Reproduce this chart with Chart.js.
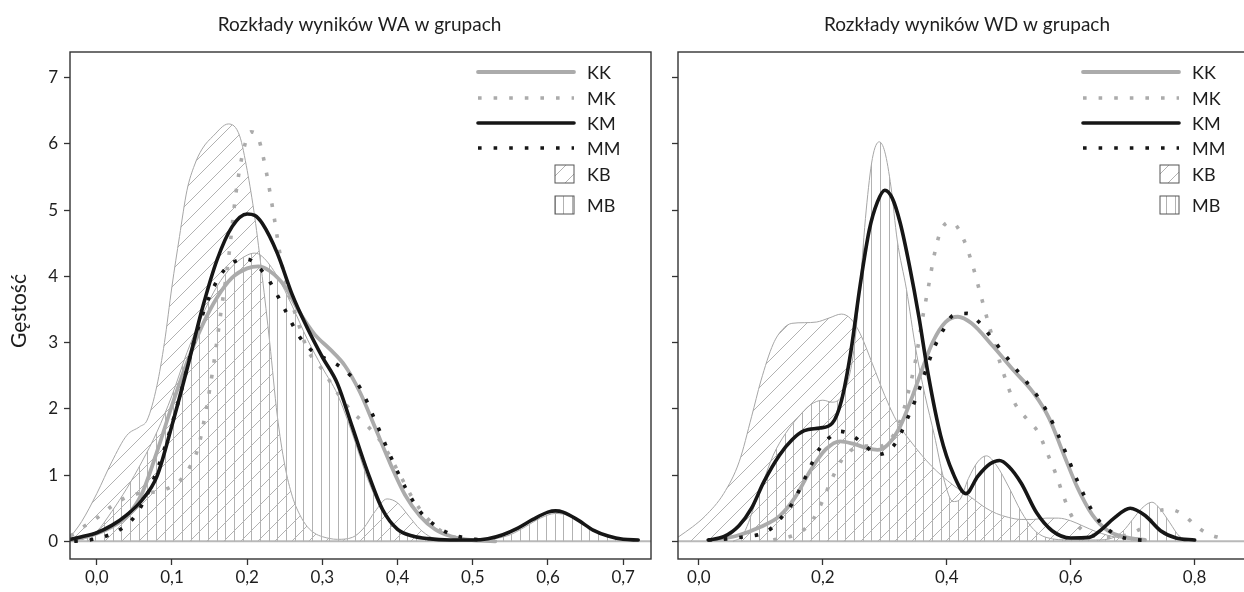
<!DOCTYPE html>
<html><head><meta charset="utf-8">
<script src="https://cdn.jsdelivr.net/npm/chart.js@4.4.1/dist/chart.umd.min.js"></script>
<style>
html,body{margin:0;padding:0;background:#fff;overflow:hidden;}
#wrap{position:relative;width:1244px;height:592px;overflow:hidden;background:#fff;}
#c1{position:absolute;left:0;top:0;}
#c2{position:absolute;left:620px;top:0;}
</style></head><body>
<div id="wrap"><canvas id="c1" width="660" height="592"></canvas><canvas id="c2" width="660" height="592"></canvas></div>
<script>
// ---------- texts ----------
const TITLE_WA = 'Rozkłady wyników WA w grupach';
const TITLE_WD = 'Rozkłady wyników WD w grupach';
const Y_TITLE = 'Gęstość';
const SERIES = ['KK', 'MK', 'KM', 'MM', 'KB', 'MB'];
const Y_TICKS = [0, 1, 2, 3, 4, 5, 6, 7];
const X_TICKS_WA = [0, 0.1, 0.2, 0.3, 0.4, 0.5, 0.6, 0.7];
const X_TICKS_WD = [0, 0.2, 0.4, 0.6, 0.8];

// ---------- WA panel ----------
const WA_KK_X = [-0.035,-0.02,0.0,0.02,0.04,0.06,0.08,0.1,0.12,0.14,0.16,0.18,0.2,0.215,0.23,0.25,0.27,0.29,0.31,0.33,0.35,0.37,0.39,0.41,0.43,0.45,0.47,0.49,0.51,0.53];
const WA_KK_Y = [0.02,0.05,0.12,0.22,0.38,0.72,1.35,2.05,2.7,3.25,3.68,3.98,4.12,4.15,4.08,3.85,3.45,3.12,2.9,2.65,2.25,1.72,1.18,0.7,0.38,0.18,0.08,0.03,0.01,0.0];
const WA_MK_X = [-0.035,-0.02,0.0,0.02,0.04,0.06,0.08,0.1,0.115,0.125,0.135,0.145,0.155,0.165,0.175,0.185,0.195,0.205,0.215,0.225,0.235,0.245,0.255,0.265,0.28,0.3,0.32,0.34,0.36,0.38,0.4,0.42,0.44,0.46,0.48,0.5];
const WA_MK_Y = [0.08,0.2,0.35,0.53,0.67,0.73,0.75,0.83,0.97,1.15,1.42,1.96,2.64,3.45,4.25,5.25,5.9,6.18,6.08,5.6,4.95,4.25,3.75,3.4,2.9,2.59,2.24,1.95,1.74,1.47,1.07,0.65,0.34,0.14,0.05,0.01];
const WA_KM_X = [-0.035,-0.02,0.0,0.02,0.04,0.06,0.08,0.1,0.12,0.14,0.16,0.18,0.2,0.21,0.22,0.24,0.26,0.28,0.3,0.32,0.34,0.36,0.38,0.4,0.42,0.44,0.47,0.5,0.52,0.54,0.56,0.58,0.6,0.61,0.62,0.64,0.66,0.68,0.7,0.72];
const WA_KM_Y = [0.03,0.07,0.13,0.24,0.4,0.62,0.98,1.75,2.6,3.5,4.25,4.75,4.94,4.92,4.8,4.35,3.72,3.22,2.78,2.38,1.72,1.05,0.48,0.18,0.08,0.04,0.02,0.02,0.04,0.1,0.2,0.33,0.44,0.46,0.44,0.32,0.17,0.08,0.03,0.02];
const WA_MM_X = [-0.03,-0.01,0.01,0.03,0.05,0.07,0.09,0.11,0.13,0.15,0.17,0.19,0.2,0.21,0.23,0.25,0.27,0.29,0.31,0.33,0.35,0.37,0.39,0.41,0.43,0.45,0.47,0.49,0.51];
const WA_MM_Y = [0.0,0.02,0.07,0.17,0.37,0.78,1.4,2.17,3.04,3.7,4.1,4.25,4.26,4.2,3.92,3.5,3.08,2.84,2.73,2.58,2.32,1.83,1.3,0.82,0.45,0.24,0.11,0.05,0.02];
const WA_KB_X = [-0.036,-0.02,0.0,0.02,0.04,0.057,0.067,0.08,0.09,0.1,0.11,0.12,0.13,0.14,0.155,0.175,0.19,0.2,0.21,0.22,0.23,0.24,0.25,0.26,0.27,0.28,0.29,0.3,0.32,0.34,0.355,0.37,0.386,0.4,0.415,0.43,0.445,0.46,0.48];
const WA_KB_Y = [0.05,0.3,0.72,1.2,1.6,1.73,1.83,2.35,3.0,3.85,4.6,5.3,5.68,5.92,6.12,6.3,6.12,5.6,4.9,4.0,3.0,1.9,1.15,0.68,0.4,0.22,0.12,0.07,0.03,0.06,0.2,0.45,0.64,0.58,0.38,0.18,0.06,0.02,0.0];
const WA_MB_X = [-0.02,0.0,0.02,0.04,0.06,0.08,0.1,0.12,0.14,0.16,0.18,0.2,0.21,0.22,0.24,0.26,0.28,0.3,0.32,0.34,0.36,0.38,0.4,0.42,0.44,0.47,0.5,0.53,0.55,0.57,0.59,0.61,0.63,0.65,0.67,0.69,0.72];
const WA_MB_Y = [0.02,0.15,0.45,0.8,1.2,1.65,2.2,2.85,3.4,3.85,4.15,4.32,4.35,4.3,4.0,3.55,3.05,2.62,2.22,1.62,0.95,0.45,0.18,0.07,0.03,0.01,0.01,0.04,0.1,0.22,0.35,0.42,0.38,0.25,0.12,0.05,0.01];

// ---------- WD panel ----------
const WD_KK_X = [0.02,0.06,0.1,0.13,0.155,0.18,0.205,0.228,0.25,0.27,0.288,0.305,0.325,0.345,0.36,0.378,0.398,0.418,0.44,0.475,0.507,0.54,0.565,0.588,0.61,0.635,0.66,0.69,0.72];
const WD_KK_Y = [0.02,0.08,0.22,0.38,0.66,1.07,1.39,1.51,1.47,1.41,1.38,1.46,1.74,2.2,2.59,3.02,3.31,3.39,3.29,2.94,2.59,2.24,1.86,1.33,0.83,0.4,0.16,0.06,0.02];
const WD_MK_X = [0.12,0.15,0.17,0.185,0.2,0.215,0.23,0.245,0.265,0.29,0.31,0.325,0.338,0.35,0.36,0.37,0.38,0.39,0.405,0.415,0.428,0.44,0.455,0.47,0.49,0.51,0.53,0.548,0.56,0.575,0.59,0.6,0.615,0.635,0.66,0.685,0.705,0.722,0.74,0.76,0.782,0.8,0.82,0.845];
const WD_MK_Y = [0.02,0.08,0.18,0.34,0.62,0.95,1.22,1.37,1.44,1.43,1.55,1.82,2.25,2.75,3.32,3.82,4.33,4.68,4.82,4.77,4.54,4.22,3.71,3.2,2.58,2.08,1.84,1.64,1.38,1.04,0.64,0.41,0.2,0.09,0.06,0.08,0.15,0.25,0.45,0.48,0.4,0.25,0.12,0.04];
const WD_KM_X = [0.015,0.04,0.065,0.085,0.105,0.13,0.15,0.17,0.195,0.215,0.23,0.245,0.26,0.275,0.288,0.3,0.312,0.325,0.34,0.355,0.37,0.39,0.41,0.431,0.45,0.47,0.485,0.5,0.52,0.545,0.57,0.6,0.63,0.65,0.67,0.696,0.72,0.745,0.77,0.8];
const WD_KM_Y = [0.02,0.07,0.24,0.5,0.9,1.3,1.53,1.67,1.71,1.78,2.12,2.85,3.85,4.7,5.12,5.3,5.18,4.8,4.15,3.39,2.52,1.6,1.03,0.72,0.98,1.17,1.22,1.13,0.88,0.43,0.16,0.05,0.06,0.18,0.35,0.5,0.39,0.16,0.05,0.02];
const WD_MM_X = [0.015,0.05,0.075,0.1,0.12,0.135,0.15,0.165,0.18,0.195,0.21,0.228,0.25,0.27,0.287,0.305,0.32,0.335,0.35,0.365,0.38,0.395,0.41,0.433,0.452,0.47,0.49,0.51,0.53,0.55,0.565,0.58,0.595,0.61,0.625,0.64,0.66,0.68,0.7,0.73];
const WD_MM_Y = [0.02,0.04,0.07,0.11,0.22,0.38,0.56,0.83,1.13,1.4,1.56,1.66,1.58,1.43,1.31,1.36,1.52,1.82,2.15,2.55,2.93,3.2,3.41,3.44,3.31,3.1,2.86,2.62,2.39,2.14,1.9,1.6,1.27,0.93,0.63,0.38,0.18,0.07,0.03,0.01];
const WD_KB_X = [-0.034,-0.01,0.01,0.04,0.065,0.085,0.1,0.12,0.135,0.15,0.17,0.19,0.21,0.23,0.245,0.26,0.28,0.3,0.32,0.345,0.375,0.41,0.44,0.46,0.48,0.5,0.52,0.54,0.56,0.58,0.6,0.62,0.64,0.66,0.68,0.7,0.72];
const WD_KB_Y = [0.06,0.22,0.38,0.72,1.2,1.88,2.42,2.98,3.2,3.29,3.3,3.31,3.37,3.43,3.36,3.14,2.68,2.2,1.8,1.47,1.14,0.85,0.66,0.52,0.42,0.36,0.33,0.33,0.35,0.35,0.31,0.23,0.15,0.09,0.05,0.02,0.01];
const WD_MB_X = [0.055,0.07,0.08,0.09,0.1,0.12,0.14,0.16,0.18,0.2,0.215,0.23,0.24,0.25,0.26,0.27,0.28,0.291,0.3,0.31,0.32,0.335,0.35,0.365,0.38,0.395,0.41,0.42,0.435,0.45,0.464,0.48,0.5,0.52,0.54,0.56,0.6,0.64,0.67,0.685,0.7,0.715,0.731,0.745,0.76,0.775,0.79];
const WD_MB_Y = [0.0,0.08,0.28,0.55,0.8,1.3,1.63,1.87,2.06,2.13,2.1,2.18,2.4,2.88,3.85,5.0,5.78,6.03,5.88,5.35,4.55,3.8,2.9,2.2,1.6,0.95,0.6,0.62,0.95,1.2,1.29,1.15,0.82,0.45,0.18,0.06,0.02,0.02,0.06,0.16,0.33,0.5,0.59,0.48,0.28,0.08,0.02];

// ---------- styles ----------
const FONT = 'Lato, "Open Sans", sans-serif';
const TXT = '#1e1e1e';
const GRAY = '#ababab';
const BLACK = '#161616';
const THIN = '#a6a6a6';
const HATCH = '#b2b2b2';

function makePatterns(ctx) {
  const d = document.createElement('canvas'); d.width = 17; d.height = 17;
  const g = d.getContext('2d');
  g.strokeStyle = HATCH; g.lineWidth = 1;
  g.beginPath(); g.moveTo(-2, 19); g.lineTo(19, -2); g.stroke();
  g.beginPath(); g.moveTo(-2, 2); g.lineTo(2, -2); g.stroke();
  g.beginPath(); g.moveTo(15, 19); g.lineTo(19, 15); g.stroke();
  const v = document.createElement('canvas'); v.width = 26; v.height = 8;
  const h = v.getContext('2d');
  h.fillStyle = HATCH;
  [0, 9, 17].forEach(x => h.fillRect(x, 0, 1, 8));
  return { diag: ctx.createPattern(d, 'repeat'), vert: ctx.createPattern(v, 'repeat') };
}

function pts(xs, ys) { return xs.map((x, i) => ({ x: x, y: ys[i] })); }

function lineDS(label, xs, ys, color, width, dash, order) {
  return {
    label, data: pts(xs, ys), borderColor: color, borderWidth: width,
    borderDash: dash || [], borderCapStyle: dash ? 'butt' : 'round', borderJoinStyle: 'round',
    pointRadius: 0, fill: false, cubicInterpolationMode: 'monotone', order
  };
}
function areaDS(label, xs, ys, pattern, order) {
  return {
    label, data: pts(xs, ys), borderColor: THIN, borderWidth: 1, backgroundColor: pattern,
    pointRadius: 0, fill: 'origin', cubicInterpolationMode: 'monotone', order, isArea: true
  };
}

const framePlugin = {
  id: 'frame',
  beforeDatasetsDraw(chart) {
    const { ctx, chartArea: a, scales } = chart;
    const y0 = scales.y.getPixelForValue(0);
    ctx.save();
    ctx.beginPath(); ctx.rect(a.left, a.top, a.width, a.height); ctx.clip();
    ctx.strokeStyle = '#b9b9b9'; ctx.lineWidth = 2;
    ctx.beginPath(); ctx.moveTo(a.left, y0); ctx.lineTo(a.right, y0); ctx.stroke();
    ctx.restore();
  },
  afterDraw(chart) {
    const { ctx, chartArea: a } = chart;
    const o = chart.options.plugins.frame;
    ctx.save();
    ctx.strokeStyle = '#333'; ctx.lineWidth = 1.4;
    ctx.strokeRect(a.left, a.top, a.right - a.left, a.bottom - a.top);
    // title
    ctx.fillStyle = TXT; ctx.font = '19px ' + FONT;
    ctx.textAlign = 'center'; ctx.textBaseline = 'middle';
    ctx.fillText(o.title, (a.left + a.right) / 2 + o.titleShift, 25);
    // y axis title
    if (o.yTitle) {
      ctx.save();
      ctx.translate(19, 311);
      ctx.rotate(-Math.PI / 2);
      ctx.font = '21px ' + FONT;
      ctx.fillText(o.yTitle, 0, 0);
      ctx.restore();
    }
    // legend
    const rows = [20, 46, 71, 96, 122, 153];
    ctx.font = '18px ' + FONT; ctx.textAlign = 'left';
    SERIES.forEach((name, i) => {
      const ds = chart.data.datasets.find(d => d.label === name);
      const y = a.top + rows[i];
      if (ds.isArea) {
        ctx.fillStyle = ds.backgroundColor;
        ctx.fillRect(a.right - 96, y - 9, 19, 18);
        ctx.strokeStyle = '#555'; ctx.lineWidth = 1; ctx.setLineDash([]);
        ctx.strokeRect(a.right - 96, y - 9, 19, 18);
      } else {
        ctx.strokeStyle = ds.borderColor; ctx.lineWidth = ds.borderWidth;
        ctx.setLineDash(ds.borderDash); ctx.lineCap = ds.borderCapStyle;
        ctx.beginPath(); ctx.moveTo(a.right - 173, y); ctx.lineTo(a.right - 77, y); ctx.stroke();
        ctx.setLineDash([]);
      }
      ctx.fillStyle = TXT;
      ctx.fillText(name, a.right - 64, y + 1);
    });
    ctx.restore();
  }
};

function makeChart(id, sets, xmin, xmax, xticks, opts) {
  const ctx = document.getElementById(id).getContext('2d');
  const pat = makePatterns(ctx);
  const datasets = [
    lineDS('MM', sets.MM[0], sets.MM[1], BLACK, 3.6, [3.6, 12], 0),
    lineDS('KM', sets.KM[0], sets.KM[1], BLACK, 3.6, null, 1),
    lineDS('MK', sets.MK[0], sets.MK[1], GRAY, 3.6, [3.6, 12], 2),
    lineDS('KK', sets.KK[0], sets.KK[1], GRAY, 3.8, null, 3),
    areaDS('MB', sets.MB[0], sets.MB[1], pat.vert, 4),
    areaDS('KB', sets.KB[0], sets.KB[1], pat.diag, 5)
  ];
  return new Chart(ctx, {
    type: 'line',
    data: { datasets },
    plugins: [framePlugin],
    options: {
      responsive: false, animation: false, devicePixelRatio: 1,
      layout: { padding: { top: 52, right: opts.padRight, left: 0, bottom: 0 } },
      plugins: { legend: { display: false }, tooltip: { enabled: false }, title: { display: false },
        frame: { title: opts.title, titleShift: opts.titleShift, yTitle: opts.yTitle } },
      scales: {
        x: {
          type: 'linear', min: xmin, max: xmax,
          afterBuildTicks: s => { s.ticks = xticks.map(v => ({ value: v })); },
          afterFit: s => { s.height = 33; },
          ticks: { callback: v => Number(v).toFixed(1).replace('.', ','), font: { family: FONT, size: 17 }, color: TXT, padding: 2, maxRotation: 0, autoSkip: false },
          grid: { drawOnChartArea: false, drawTicks: true, tickLength: 6, tickColor: '#333', tickWidth: 1.3 },
          border: { display: false }
        },
        y: {
          type: 'linear', min: -0.267, max: 7.386,
          afterBuildTicks: s => { s.ticks = Y_TICKS.map(v => ({ value: v })); },
          afterFit: s => { s.width = opts.yWidth; },
          ticks: { display: opts.yLabels, callback: v => String(v), font: { family: FONT, size: 17 }, color: TXT, padding: 6 },
          grid: { drawOnChartArea: false, drawTicks: true, tickLength: 6, tickColor: '#333', tickWidth: 1.3 },
          border: { display: false }
        }
      }
    }
  });
}

makeChart('c1', {
  KK: [WA_KK_X, WA_KK_Y], MK: [WA_MK_X, WA_MK_Y], KM: [WA_KM_X, WA_KM_Y],
  MM: [WA_MM_X, WA_MM_Y], KB: [WA_KB_X, WA_KB_Y], MB: [WA_MB_X, WA_MB_Y]
}, -0.0356, 0.737, X_TICKS_WA, { padRight: 9, yWidth: 70, yLabels: true, yTitle: Y_TITLE, title: TITLE_WA, titleShift: -1 });

makeChart('c2', {
  KK: [WD_KK_X, WD_KK_Y], MK: [WD_MK_X, WD_MK_Y], KM: [WD_KM_X, WD_KM_Y],
  MM: [WD_MM_X, WD_MM_Y], KB: [WD_KB_X, WD_KB_Y], MB: [WD_MB_X, WD_MB_Y]
}, -0.0337, 0.899, X_TICKS_WD, { padRight: 24, yWidth: 58, yLabels: false, yTitle: null, title: TITLE_WD, titleShift: 0 });
</script>
</body></html>
